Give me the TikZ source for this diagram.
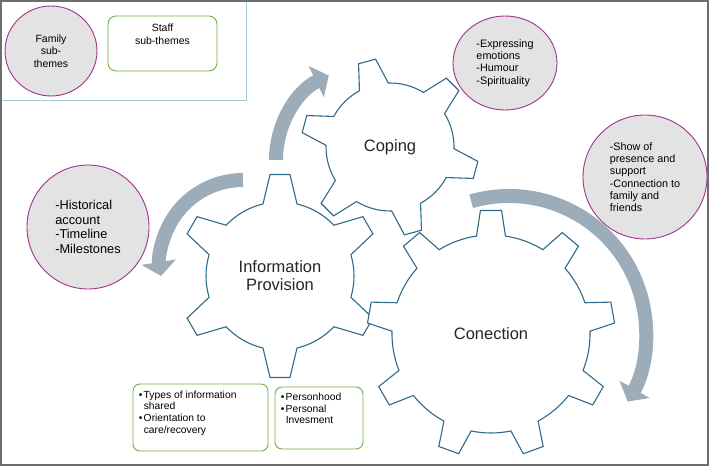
\documentclass[tikz,border=0pt]{standalone}
\usepackage{fontspec}
\setmainfont{Liberation Sans}
\usetikzlibrary{arrows.meta,shapes.geometric}

\definecolor{gearblue}{RGB}{46,106,140}
\definecolor{arrowgrey}{RGB}{156,172,185}
\definecolor{famborder}{RGB}{160,50,140}
\definecolor{famfill}{RGB}{227,227,227}
\definecolor{staffgreen}{RGB}{112,173,71}
\definecolor{legendline}{RGB}{168,198,212}
\definecolor{framegrey}{RGB}{110,110,110}

\tikzset{
  gearline/.style={draw=gearblue, fill=white, line width=1.1pt},
  gearlabel/.style={align=center, font=\fontsize{16.5}{18}\selectfont, text=black!85},
  themearrow/.style={draw=arrowgrey, line width=14pt, -{Triangle[width=34pt,length=14pt]}},
  famtheme/.style={ellipse, draw=famborder, fill=famfill, line width=0.9pt, inner sep=0pt},
  staffbox/.style={draw=staffgreen, rounded corners=7pt, line width=0.9pt},
  stafftext/.style={inner sep=0pt, align=left, font=\fontsize{10.3}{11.6}\selectfont},
}

% #1 centre, #2 teeth, #3 outer radius, #4 root radius, #5 first tooth, #6 tip half angle, #7 base half angle
\newcommand{\geardraw}[7]{%
  \begin{scope}[shift={#1}]
    \path[gearline] ({#5-#7}:#4)
      \foreach \k in {1,...,#2}{
        -- ({#5+360/#2*(\k-1)-#6}:#3) -- ({#5+360/#2*(\k-1)+#6}:#3)
        -- ({#5+360/#2*(\k-1)+#7}:#4)
        arc[start angle={#5+360/#2*(\k-1)+#7}, end angle={#5+360/#2*\k-#7}, radius=#4]
      } -- cycle;
  \end{scope}}

\newcommand{\bul}{\makebox[5pt][l]{•}}

\begin{document}
\begin{tikzpicture}[x=1pt, y=1pt]
  \useasboundingbox (0,0) rectangle (709,466);

  % gears
  \coordinate (infogear) at (280,190);
  \coordinate (copinggear) at (390,319);
  \coordinate (connectgear) at (491,132);
  \geardraw{(infogear)}{6}{102}{74}{90}{5.6}{13.3}
  \geardraw{(copinggear)}{6}{89}{64}{105}{5.7}{13.5}
  \geardraw{(connectgear)}{9}{124}{99}{90}{4.9}{8.4}

  \node[gearlabel] (infolabel) at (infogear) {Information\\Provision};
  \node[gearlabel] (copinglabel) at (copinggear) {Coping};
  \node[gearlabel] (connectlabel) at (connectgear) {Conection};

  % arrows between the themes
  \coordinate (toCoping) at (276,306);
  \coordinate (toHistory) at (243,286);
  \coordinate (toConnect) at (471.2,264.7);
  \draw[themearrow] (toCoping) arc[start angle=180, end angle=116, radius=94];
  \draw[themearrow] (toHistory) arc[start angle=90, end angle=189, radius=83];
  \draw[themearrow] (toConnect) arc[start angle=106, end angle=-30, radius=137];

  % family sub-themes
  \node[famtheme, minimum width=122pt, minimum height=124pt, align=left,
        font=\fontsize{12.8}{14.7}\selectfont] (history) at (88,239)
        {-Historical\\account\\-Timeline\\-Milestones};
  \node[famtheme, minimum width=104pt, minimum height=94pt, align=left,
        font=\fontsize{10.8}{12.3}\selectfont] (copingthemes) at (505,403)
        {-Expressing\\emotions\\-Humour\\-Spirituality};
  \node[famtheme, minimum width=124pt, minimum height=124pt, align=left,
        font=\fontsize{10.8}{12.3}\selectfont] (presence) at (645,289)
        {-Show of\\presence and\\support\\-Connection to\\family and\\friends};

  % staff sub-themes
  \node[staffbox, minimum width=135pt, minimum height=67pt] (infobox) at (200.5,48.5) {};
  \node[stafftext, anchor=north west] (infotext) at ([xshift=6pt,yshift=-7pt]infobox.north west)
        {\bul Types of information\\\hspace*{5pt}shared\\\bul Orientation to\\\hspace*{5pt}care/recovery};
  \node[staffbox, minimum width=88pt, minimum height=62pt] (personbox) at (319,48) {};
  \node[stafftext, anchor=north west] (persontext) at ([xshift=6pt,yshift=-6.5pt]personbox.north west)
        {\bul Personhood\\\bul Personal\\\hspace*{5pt}Invesment};

  % key
  \draw[legendline, line width=1pt] (0,365) -- (246,365) -- (246,466);
  \node[famtheme, minimum width=92pt, minimum height=90pt, align=center,
        font=\fontsize{10.5}{12.3}\selectfont] (famkey) at (51,415) {Family\\sub-\\themes};
  \node[staffbox, rounded corners=8pt, minimum width=109pt, minimum height=55pt] (staffkey) at (162.5,422.5) {};
  \node[inner sep=0pt, anchor=north, align=center, font=\fontsize{10.5}{12.8}\selectfont]
        (staffkeytext) at ([yshift=-8pt]staffkey.north) {Staff\\sub-themes};

  \draw[framegrey, line width=2pt] (1,1) rectangle (708,465);
\end{tikzpicture}
\end{document}
